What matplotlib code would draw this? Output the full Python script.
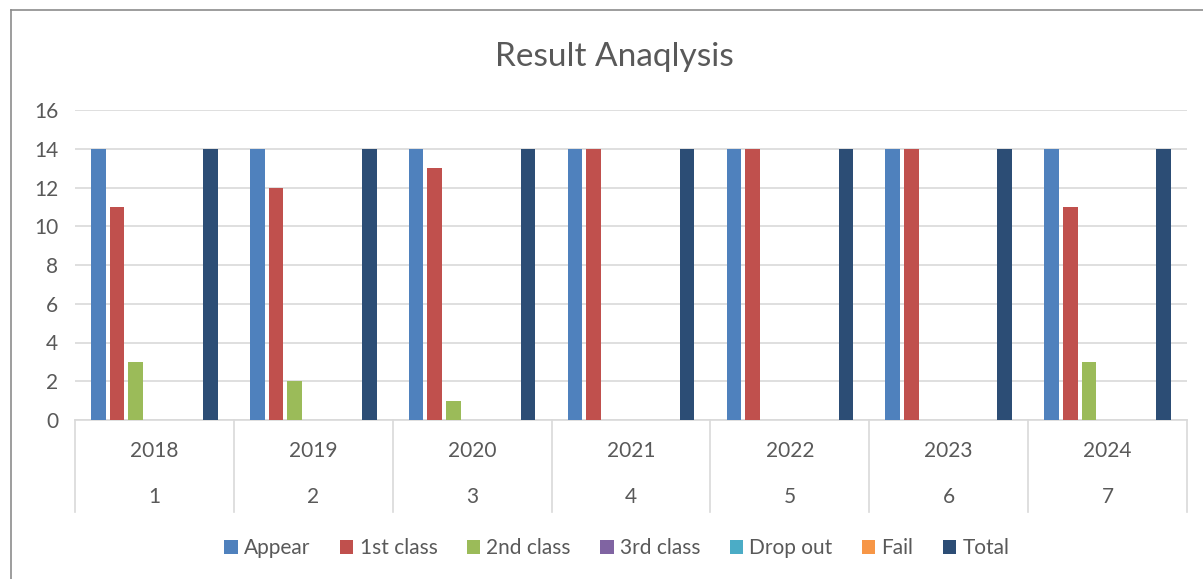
import matplotlib.pyplot as plt
from matplotlib.lines import Line2D
import numpy as np

# data
years = ["2018", "2019", "2020", "2021", "2022", "2023", "2024"]
index = ["1", "2", "3", "4", "5", "6", "7"]
series_names = ["Appear", "1st class", "2nd class", "3rd class", "Drop out", "Fail", "Total"]
appear = [14, 14, 14, 14, 14, 14, 14]
first_class = [11, 12, 13, 14, 14, 14, 11]
second_class = [3, 2, 1, 0, 0, 0, 3]
third_class = [0, 0, 0, 0, 0, 0, 0]
drop_out = [0, 0, 0, 0, 0, 0, 0]
fail = [0, 0, 0, 0, 0, 0, 0]
total = [14, 14, 14, 14, 14, 14, 14]

colors = ["#4F81BD", "#C0504D", "#9BBB59", "#8064A2", "#4BACC6", "#F79646", "#2C4D75"]
text_col = "#595959"
grid_col = "#D9D9D9"

plt.rcParams['font.family'] = ['Lato', 'DejaVu Sans']

W, H = 1203, 579
fig = plt.figure(figsize=(W / 100, H / 100), dpi=100)

# outer chart border
fig.add_artist(Line2D([11 / W, 11 / W], [0, 1 - 10 / H], color="#8C8C8C", lw=1.2))
fig.add_artist(Line2D([11 / W, 1], [1 - 10 / H, 1 - 10 / H], color="#8C8C8C", lw=1.2))

left, right, top, bottom = 75, 1187, 110, 420
ax = fig.add_axes([left / W, 1 - bottom / H, (right - left) / W, (bottom - top) / H])

all_series = [appear, first_class, second_class, third_class, drop_out, fail, total]
n = len(all_series)
slot = 0.1176
bw = 0.092
x = np.arange(len(years))
for i, (name, vals) in enumerate(zip(series_names, all_series)):
    offs = (i - (n - 1) / 2) * slot
    ax.bar(x + offs, vals, width=bw, color=colors[i], label=name, zorder=3)

ax.set_xlim(-0.5, len(years) - 0.5)
ax.set_ylim(0, 16)
ax.set_yticks(range(0, 17, 2))
ax.yaxis.grid(True, color=grid_col, lw=1.2, zorder=0)
for s in ["left", "right", "top"]:
    ax.spines[s].set_visible(False)
ax.spines["bottom"].set_color(grid_col)
ax.spines["bottom"].set_linewidth(1.2)
ax.tick_params(axis="y", length=0, labelsize=15, labelcolor=text_col, pad=12)
ax.tick_params(axis="x", length=0, labelbottom=False)

# two-level category axis
trans = ax.get_xaxis_transform()
sep_depth = (512 - bottom) / (bottom - top)
for b in np.arange(len(years) + 1) - 0.5:
    ax.plot([b, b], [0, -sep_depth], transform=trans, color=grid_col, lw=1.2, clip_on=False)
y_year = -(451 - bottom) / (bottom - top)
y_idx = -(497 - bottom) / (bottom - top)
for xi, yr, ix in zip(x, years, index):
    ax.text(xi, y_year, yr, transform=trans, ha="center", va="center", fontsize=15, color=text_col)
    ax.text(xi, y_idx, ix, transform=trans, ha="center", va="center", fontsize=15, color=text_col)

fig.text(614 / W, 1 - 57 / H, "Result Anaqlysis", ha="center", va="center", fontsize=24, color=text_col)

fig.legend(loc="center", bbox_to_anchor=(617 / W, 1 - 548 / H), ncol=7, frameon=False,
           fontsize=15, labelcolor=text_col, handlelength=0.65, handleheight=0.65,
           handletextpad=0.3, columnspacing=1.4)

fig.savefig("out.png", dpi=100)
